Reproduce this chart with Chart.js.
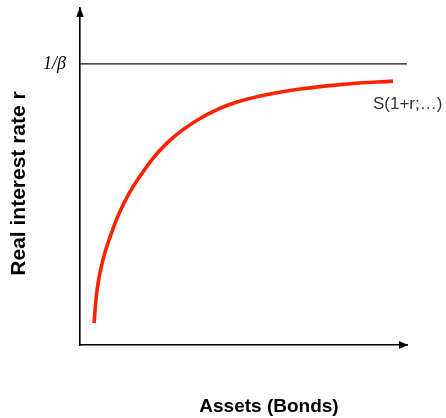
<!DOCTYPE html>
<html>
<head>
<meta charset="utf-8">
<script src="https://cdn.jsdelivr.net/npm/chart.js@4/dist/chart.umd.min.js"></script>
<style>
  html, body { margin: 0; padding: 0; background: #fff; }
  canvas { display: block; }
</style>
</head>
<body>
<canvas id="c" width="446" height="418"></canvas>
<script>
// Savings supply schedule: asset holdings against the real interest rate
const assets = [4.3, 5.0, 5.8, 7.0, 8.6, 12.5, 18.0, 26.6, 36.7, 48.0, 64.2, 82.6, 95.7];
const rate   = [6.5, 14.5, 19.9, 25.2, 30.4, 40.2, 49.6, 59.9, 67.2, 72.1, 75.5, 77.5, 78.3];

// Upper bound of the rate, 1/β
const betaLevel = 83.4;
const betaSpan = [0, 100];
const yTickLabels = ['1/β'];
const curveLabel = 'S(1+r;…)';
const xTitle = 'Assets (Bonds)';
const yTitle = 'Real interest rate r';

const supply = assets.map((a, i) => ({ x: a, y: rate[i] }));
const ceiling = betaSpan.map(a => ({ x: a, y: betaLevel }));

// Arrowheads on the axes, titles and curve label
const decorations = {
  id: 'decorations',
  afterDraw(chart) {
    const { ctx, chartArea: a } = chart;
    ctx.save();
    ctx.fillStyle = '#000';
    // y-axis arrow
    ctx.beginPath();
    ctx.moveTo(a.left, a.top - 1);
    ctx.lineTo(a.left - 3.8, a.top + 9);
    ctx.lineTo(a.left + 3.8, a.top + 9);
    ctx.closePath();
    ctx.fill();
    // x-axis arrow
    ctx.beginPath();
    ctx.moveTo(a.right + 1, a.bottom);
    ctx.lineTo(a.right - 8, a.bottom - 4);
    ctx.lineTo(a.right - 8, a.bottom + 4);
    ctx.closePath();
    ctx.fill();

    // axis titles
    ctx.fillStyle = '#000';
    ctx.textAlign = 'center';
    ctx.textBaseline = 'middle';
    ctx.font = 'bold 19px "Liberation Sans", Arial, sans-serif';
    ctx.fillText(xTitle, (a.left + chart.width) / 2 + 6, a.bottom + 62);
    ctx.save();
    ctx.font = 'bold 21px "Liberation Sans", Arial, sans-serif';
    ctx.translate(19, (a.top + a.bottom) / 2 + 7);
    ctx.rotate(-Math.PI / 2);
    ctx.fillText(yTitle, 0, 0);
    ctx.restore();

    // label next to the end of the curve
    const meta = chart.getDatasetMeta(0);
    const last = meta.data[meta.data.length - 1];
    ctx.fillStyle = '#333';
    ctx.font = '17px "Liberation Sans", Arial, sans-serif';
    ctx.textAlign = 'left';
    ctx.textBaseline = 'middle';
    ctx.fillText(curveLabel, last.x - 20, last.y + 23);
    ctx.restore();
  }
};

new Chart(document.getElementById('c'), {
  type: 'line',
  data: {
    datasets: [
      {
        data: supply,
        borderColor: '#ff2200',
        borderWidth: 3.6,
        pointRadius: 0,
        tension: 0.4,
        fill: false
      },
      {
        data: ceiling,
        borderColor: '#111',
        borderWidth: 1.2,
        pointRadius: 0,
        fill: false
      }
    ]
  },
  options: {
    responsive: false,
    animation: false,
    events: [],
    layout: { padding: { top: 8, right: 39, left: 0, bottom: 0 } },
    plugins: { legend: { display: false }, tooltip: { enabled: false } },
    scales: {
      x: {
        type: 'linear',
        min: 0,
        max: 100,
        grid: { display: false },
        border: { display: true, color: '#000', width: 1.6 },
        ticks: { display: false },
        afterFit(scale) {
          scale.height = 73;
          scale.paddingLeft = 0;
          scale.paddingRight = 0;
        }
      },
      y: {
        type: 'linear',
        min: 0,
        max: 100,
        grid: { display: false },
        border: { display: true, color: '#000', width: 1.6 },
        afterBuildTicks(scale) { scale.ticks = [{ value: betaLevel }]; },
        ticks: {
          padding: 6,
          color: '#000',
          font: { family: '"Liberation Serif", "Times New Roman", serif', style: 'italic', size: 18 },
          callback: (v, i) => yTickLabels[i]
        },
        afterFit(scale) {
          scale.width = 80;
          scale.paddingTop = 0;
          scale.paddingBottom = 0;
        }
      }
    }
  },
  plugins: [decorations]
});
</script>
</body>
</html>
